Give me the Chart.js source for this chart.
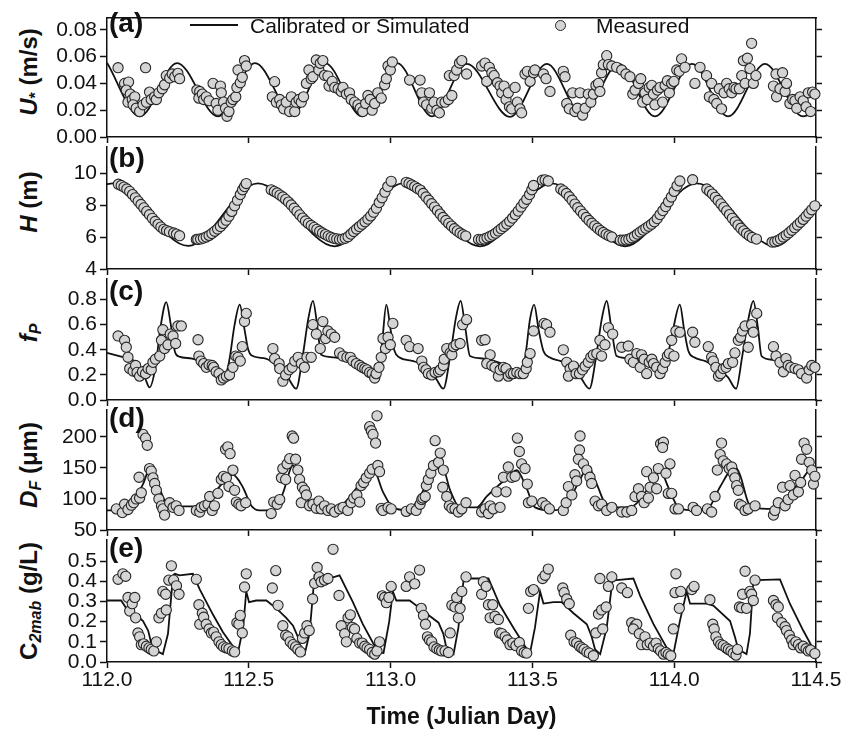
<!DOCTYPE html>
<html>
<head>
<meta charset="utf-8">
<script src="https://cdn.jsdelivr.net/npm/chart.js"></script>
<style>
  body { margin: 0; background: #fff; width: 856px; height: 733px; position: relative; overflow: hidden;
         font-family: 'Liberation Sans', Arial, sans-serif; color: #111; }
  .panel { position: absolute; left: 0; width: 856px; }
  .ytitle { position: absolute; left: 29px; transform: translate(-50%, -50%) rotate(-90deg);
            white-space: nowrap; font-weight: bold; font-size: 24px; line-height: 1; }
  .ytitle sub { font-size: 16px; vertical-align: -4px; line-height: 0; }
  .tag { position: absolute; left: 109px; font-weight: bold; font-size: 28px; line-height: 1; }
  .legtext { position: absolute; top: 15px; font-size: 21px; line-height: 1; white-space: nowrap; }
</style>
</head>
<body>

<div class="ytitle" style="top:72px"><i>U</i><sub>*</sub> (m/s)</div>
<div class="ytitle" style="top:202px"><i>H</i> (m)</div>
<div class="ytitle" style="top:333px"><i>f</i><sub><i>P</i></sub></div>
<div class="ytitle" style="top:465px"><i>D</i><sub><i>F</i></sub> (μm)</div>
<div class="ytitle" style="top:601px">C<sub><i>2mab</i></sub> (g/L)</div>

<script>
// x axis
const timeTicks = [112.0, 112.5, 113.0, 113.5, 114.0, 114.5];

// (a) friction velocity U* (m/s)
const uTicks = [0, 0.02, 0.04, 0.06, 0.08];
const uSim = [[112.0,0.0554],[112.116,0.0154],[112.247,0.0552],[112.391,0.0154],[112.522,0.0552],[112.656,0.0175],
  [112.769,0.0552],[112.899,0.0154],[113.023,0.0552],[113.146,0.0154],[113.269,0.0545],[113.421,0.015],[113.551,0.0545],
  [113.675,0.0168],[113.805,0.0545],[113.932,0.0154],[114.063,0.0545],[114.190,0.0154],[114.320,0.0545],[114.454,0.0154],[114.5,0.019]];
const uMeas = [[112.039,0.0517],[112.062,0.040],[112.076,0.041],[112.068,0.035],[112.082,0.032],[112.074,0.026],[112.089,0.028],
  [112.098,0.030],[112.092,0.024],[112.103,0.0215],[112.115,0.019],[112.127,0.024],[112.136,0.0517],[112.139,0.026],[112.150,0.0335],
  [112.156,0.028],[112.168,0.030],[112.174,0.028],[112.183,0.033],[112.195,0.036],[112.203,0.039],[112.209,0.0458],[112.221,0.044],
  [112.230,0.047],[112.239,0.045],[112.250,0.0475],[112.256,0.0435],
  [112.317,0.035],[112.327,0.034],[112.324,0.029],[112.336,0.032],[112.341,0.028],[112.350,0.030],[112.360,0.027],[112.374,0.040],
  [112.385,0.025],[112.391,0.020],[112.400,0.038],[112.403,0.033],[112.411,0.026],[112.418,0.0215],[112.423,0.0155],[112.430,0.019],
  [112.438,0.026],[112.444,0.028],[112.454,0.030],[112.458,0.037],[112.462,0.050],[112.470,0.0405],[112.477,0.0445],[112.485,0.057],
  [112.491,0.053],
  [112.583,0.030],[112.591,0.0413],[112.597,0.026],[112.609,0.028],[112.615,0.024],[112.623,0.021],[112.632,0.026],[112.644,0.019],
  [112.650,0.030],[112.662,0.019],[112.667,0.026],[112.677,0.028],[112.685,0.026],[112.693,0.030],[112.703,0.040],[112.712,0.050],
  [112.720,0.0435],[112.726,0.045],[112.738,0.0575],[112.747,0.050],[112.752,0.055],[112.761,0.057],[112.767,0.046],[112.779,0.0455],
  [112.783,0.038],[112.794,0.0415],[112.803,0.037],[112.815,0.036],[112.826,0.034],[112.832,0.037],[112.844,0.032],[112.855,0.033],
  [112.861,0.028],[112.873,0.026],[112.885,0.024],[112.893,0.0215],[112.902,0.019],[112.912,0.025],[112.920,0.031],[112.928,0.028],
  [112.935,0.020],[112.944,0.025],[112.955,0.033],[112.967,0.029],[112.979,0.039],[112.985,0.0435],[112.991,0.053],[112.999,0.050],
  [113.006,0.056],
  [113.067,0.0425],[113.104,0.0425],[113.110,0.033],[113.116,0.026],[113.127,0.024],[113.137,0.033],[113.145,0.0215],[113.153,0.026],
  [113.163,0.020],[113.172,0.018],[113.180,0.026],[113.192,0.026],[113.204,0.028],[113.216,0.031],[113.207,0.0458],[113.224,0.0458],
  [113.233,0.050],[113.243,0.0552],[113.251,0.057],[113.268,0.047],
  [113.321,0.053],[113.333,0.0552],[113.339,0.0415],[113.348,0.052],[113.357,0.048],[113.365,0.0458],[113.377,0.0405],[113.386,0.038],
  [113.392,0.033],[113.400,0.038],[113.407,0.028],[113.415,0.033],[113.419,0.0225],[113.427,0.021],[113.439,0.037],[113.447,0.026],
  [113.456,0.021],[113.462,0.018],[113.474,0.047],[113.482,0.049],[113.492,0.0415],[113.504,0.048],[113.509,0.050],[113.539,0.047],
  [113.548,0.0435],[113.562,0.034],
  [113.609,0.049],[113.615,0.045],[113.621,0.025],[113.630,0.021],[113.642,0.033],[113.650,0.019],[113.659,0.0215],[113.668,0.033],
  [113.677,0.0163],[113.686,0.0215],[113.697,0.032],[113.706,0.026],[113.715,0.032],[113.724,0.0385],[113.733,0.040],[113.738,0.034],
  [113.744,0.048],[113.750,0.054],[113.762,0.0607],[113.768,0.054],[113.780,0.053],[113.797,0.052],[113.815,0.050],[113.830,0.047],
  [113.844,0.045],[113.854,0.032],[113.862,0.035],[113.874,0.040],[113.882,0.0435],[113.889,0.026],[113.897,0.033],[113.905,0.028],
  [113.912,0.037],[113.921,0.0385],[113.927,0.032],[113.932,0.024],[113.941,0.035],[113.950,0.037],[113.959,0.026],[113.968,0.0385],
  [113.976,0.042],[113.983,0.033],[113.991,0.040],[113.999,0.0415],[114.009,0.050],[114.018,0.049],[114.026,0.0583],[114.038,0.052],
  [114.073,0.040],[114.091,0.052],[114.114,0.0458],[114.124,0.030],[114.132,0.040],[114.140,0.028],[114.150,0.025],[114.159,0.036],
  [114.167,0.021],[114.176,0.033],[114.185,0.040],[114.194,0.036],[114.203,0.033],[114.211,0.037],[114.218,0.036],[114.230,0.036],
  [114.238,0.0458],[114.244,0.057],[114.250,0.040],[114.258,0.0588],[114.267,0.051],[114.273,0.0699],[114.279,0.040],[114.288,0.0458],
  [114.350,0.038],[114.361,0.030],[114.359,0.047],[114.373,0.036],[114.382,0.048],[114.391,0.034],[114.396,0.040],[114.408,0.025],
  [114.418,0.028],[114.426,0.027],[114.432,0.0215],[114.444,0.030],[114.455,0.027],[114.465,0.0225],[114.473,0.033],[114.481,0.019],
  [114.488,0.0335],[114.496,0.032]];

// (b) water depth H (m)
const hTicks = [4, 6, 8, 10];
const hSim = [[112.0,9.30],[112.02,9.35],[112.286,5.45],[112.532,9.35],[112.803,5.42],[113.043,9.35],[113.316,5.42],
  [113.568,9.35],[113.827,5.42],[114.079,9.35],[114.355,5.42],[114.5,7.95]];
const hMeas = [
  [112.04,9.30],[112.05,9.22],[112.06,9.12],[112.07,9.00],[112.08,8.85],[112.09,8.65],[112.10,8.45],[112.11,8.24],[112.12,8.03],
  [112.13,7.82],[112.14,7.60],[112.15,7.39],[112.16,7.17],[112.17,6.97],[112.18,6.79],[112.19,6.62],[112.20,6.48],[112.21,6.40],
  [112.22,6.33],[112.235,6.25],[112.245,6.18],[112.256,6.08],
  [112.315,5.85],[112.32,5.85],[112.33,5.88],[112.34,5.93],[112.35,6.00],[112.36,6.10],[112.37,6.22],[112.38,6.36],[112.39,6.50],
  [112.40,6.66],[112.41,6.85],[112.42,7.05],[112.43,7.30],[112.44,7.60],[112.45,7.95],[112.46,8.30],[112.47,8.65],[112.478,8.95],
  [112.485,9.15],[112.491,9.34],
  [112.579,8.95],[112.59,8.85],[112.60,8.75],[112.61,8.62],[112.62,8.50],[112.63,8.35],[112.64,8.18],[112.65,8.00],[112.66,7.80],
  [112.67,7.60],[112.68,7.38],[112.69,7.18],[112.70,7.00],[112.71,6.85],[112.72,6.72],[112.73,6.60],[112.74,6.48],[112.75,6.36],
  [112.76,6.25],[112.77,6.15],[112.78,6.06],[112.79,5.98],[112.80,5.92],[112.81,5.88],
  [112.82,5.85],[112.83,5.87],[112.84,5.92],[112.85,6.02],[112.86,6.18],[112.87,6.34],[112.88,6.50],[112.89,6.65],[112.90,6.80],
  [112.91,6.95],[112.92,7.12],[112.93,7.32],[112.94,7.55],[112.95,7.80],[112.96,8.15],[112.97,8.45],[112.98,8.80],[112.99,9.15],
  [113.002,9.48],
  [113.055,9.42],[113.065,9.35],[113.075,9.25],[113.085,9.15],[113.095,9.03],[113.105,8.93],[113.115,8.72],[113.125,8.50],
  [113.135,8.30],[113.145,8.08],[113.155,7.87],[113.165,7.65],[113.175,7.43],[113.185,7.22],[113.195,7.03],[113.205,6.85],
  [113.215,6.68],[113.225,6.52],[113.235,6.38],[113.245,6.25],[113.255,6.14],[113.265,6.06],
  [113.31,5.85],[113.32,5.84],[113.33,5.88],[113.34,5.95],[113.35,6.03],[113.36,6.12],[113.37,6.24],[113.38,6.38],[113.39,6.52],
  [113.40,6.66],[113.41,6.81],[113.42,6.98],[113.43,7.18],[113.44,7.40],[113.45,7.62],[113.46,7.88],[113.47,8.12],[113.48,8.36],
  [113.49,8.65],[113.498,8.95],[113.504,9.22],[113.535,9.55],[113.545,9.57],[113.556,9.50],
  [113.600,9.00],[113.61,8.88],[113.62,8.72],[113.63,8.52],[113.64,8.30],[113.65,8.06],[113.66,7.83],[113.67,7.62],[113.68,7.42],
  [113.69,7.22],[113.70,7.03],[113.71,6.86],[113.72,6.70],[113.73,6.55],[113.74,6.40],[113.75,6.28],[113.76,6.17],[113.77,6.08],
  [113.78,6.00],[113.81,5.80],[113.82,5.80],
  [113.83,5.82],[113.84,5.86],[113.85,5.95],[113.86,6.05],[113.87,6.18],[113.88,6.31],[113.89,6.43],[113.90,6.55],[113.91,6.67],
  [113.92,6.80],[113.93,6.95],[113.94,7.15],[113.95,7.40],[113.96,7.65],[113.97,7.90],[113.98,8.20],[113.99,8.50],[114.00,8.85],
  [114.01,9.20],[114.02,9.50],[114.065,9.58],
  [114.115,9.00],[114.125,8.85],[114.135,8.68],[114.145,8.48],[114.155,8.28],[114.165,8.07],[114.175,7.85],[114.185,7.63],
  [114.195,7.40],[114.205,7.17],[114.215,6.95],[114.225,6.74],[114.235,6.55],[114.245,6.38],[114.255,6.22],[114.265,6.08],
  [114.275,5.97],[114.29,5.87],
  [114.345,5.68],[114.355,5.70],[114.365,5.78],[114.375,5.88],[114.385,6.00],[114.395,6.12],[114.405,6.27],[114.415,6.42],
  [114.425,6.58],[114.435,6.75],[114.445,6.92],[114.455,7.10],[114.465,7.30],[114.475,7.50],[114.485,7.70],[114.496,7.95]];

// (c) particulate fraction fP
const fTicks = [0, 0.2, 0.4, 0.6, 0.8];
const fSim = [[112.000,0.375],[112.050,0.345],[112.090,0.320],[112.115,0.270],[112.135,0.170],[112.150,0.100],[112.170,0.250],
  [112.190,0.600],[112.209,0.780],[112.225,0.600],[112.240,0.380],[112.255,0.345],[112.300,0.330],[112.350,0.290],[112.390,0.220],
  [112.410,0.170],[112.430,0.300],[112.450,0.600],[112.468,0.760],[112.485,0.560],[112.497,0.410],[112.510,0.355],[112.560,0.330],
  [112.600,0.270],[112.640,0.170],[112.667,0.090],[112.690,0.350],[112.710,0.650],[112.726,0.790],[112.742,0.580],[112.755,0.360],
  [112.800,0.340],[112.850,0.310],[112.900,0.270],[112.940,0.200],[112.955,0.170],[112.970,0.450],[112.985,0.760],[113.000,0.560],
  [113.014,0.390],[113.030,0.340],[113.080,0.310],[113.120,0.270],[113.160,0.170],[113.186,0.090],[113.210,0.350],[113.230,0.650],
  [113.247,0.790],[113.263,0.580],[113.280,0.350],[113.330,0.330],[113.380,0.300],[113.420,0.260],[113.456,0.200],[113.475,0.350],
  [113.492,0.650],[113.506,0.760],[113.522,0.560],[113.539,0.390],[113.560,0.340],[113.600,0.310],[113.640,0.260],[113.670,0.180],
  [113.701,0.090],[113.725,0.350],[113.745,0.650],[113.762,0.790],[113.778,0.580],[113.797,0.350],[113.850,0.330],[113.900,0.290],
  [113.950,0.210],[113.975,0.330],[113.995,0.550],[114.020,0.760],[114.035,0.560],[114.050,0.390],[114.070,0.340],[114.110,0.310],
  [114.150,0.260],[114.190,0.180],[114.218,0.090],[114.240,0.350],[114.262,0.650],[114.279,0.790],[114.295,0.580],[114.308,0.350],
  [114.350,0.320],[114.400,0.290],[114.440,0.250],[114.470,0.210],[114.500,0.250]];
const fMeas = [[112.039,0.51],[112.062,0.475],[112.068,0.42],[112.074,0.34],[112.080,0.25],[112.092,0.23],[112.101,0.275],
  [112.106,0.22],[112.115,0.19],[112.125,0.225],[112.136,0.21],[112.145,0.25],[112.156,0.24],[112.162,0.30],[112.171,0.325],
  [112.186,0.35],[112.192,0.475],[112.197,0.56],[112.203,0.41],[112.215,0.44],[112.223,0.525],[112.233,0.51],[112.242,0.45],
  [112.250,0.59],[112.262,0.59],
  [112.321,0.48],[112.324,0.35],[112.332,0.31],[112.341,0.29],[112.350,0.26],[112.360,0.28],[112.371,0.275],[112.376,0.26],
  [112.385,0.225],[112.395,0.21],[112.403,0.16],[112.411,0.175],[112.421,0.19],[112.432,0.20],[112.444,0.26],[112.454,0.35],
  [112.462,0.34],[112.470,0.31],[112.477,0.425],[112.485,0.625],[112.491,0.69],
  [112.585,0.41],[112.591,0.33],[112.607,0.29],[112.609,0.25],[112.620,0.15],[112.630,0.20],[112.642,0.24],[112.653,0.26],
  [112.662,0.31],[112.674,0.34],[112.685,0.29],[112.696,0.26],[112.705,0.34],[112.720,0.34],[112.726,0.60],[112.738,0.525],
  [112.752,0.41],[112.761,0.625],[112.771,0.49],[112.779,0.55],[112.791,0.525],[112.803,0.50],
  [112.820,0.375],[112.832,0.35],[112.846,0.34],[112.858,0.34],[112.867,0.31],[112.879,0.29],[112.891,0.275],[112.900,0.26],
  [112.909,0.25],[112.917,0.24],[112.926,0.22],[112.935,0.21],[112.944,0.175],[112.949,0.21],[112.959,0.26],[112.967,0.34],
  [112.973,0.49],[112.982,0.41],[112.991,0.50],[112.999,0.44],[113.008,0.61],
  [113.055,0.475],[113.067,0.425],[113.097,0.41],[113.110,0.31],[113.116,0.26],[113.125,0.24],[113.133,0.21],[113.145,0.20],
  [113.157,0.22],[113.169,0.225],[113.175,0.24],[113.186,0.275],[113.189,0.325],[113.198,0.41],[113.210,0.375],[113.216,0.36],
  [113.222,0.425],[113.231,0.44],[113.245,0.45],[113.254,0.60],[113.268,0.64],
  [113.321,0.475],[113.333,0.48],[113.351,0.36],[113.339,0.29],[113.357,0.275],[113.368,0.26],[113.380,0.19],[113.386,0.24],
  [113.398,0.26],[113.407,0.25],[113.415,0.19],[113.424,0.21],[113.433,0.21],[113.445,0.22],[113.456,0.21],[113.468,0.21],
  [113.478,0.25],[113.482,0.30],[113.492,0.37],[113.504,0.55],[113.541,0.61],[113.550,0.60],[113.562,0.54],
  [113.609,0.40],[113.621,0.30],[113.633,0.25],[113.645,0.27],[113.627,0.19],[113.654,0.21],[113.666,0.21],[113.677,0.24],
  [113.686,0.27],[113.697,0.30],[113.706,0.34],[113.715,0.36],[113.727,0.37],[113.738,0.475],[113.744,0.35],[113.756,0.44],
  [113.768,0.575],[113.783,0.525],
  [113.815,0.42],[113.838,0.43],[113.844,0.325],[113.856,0.30],[113.868,0.37],[113.880,0.26],[113.885,0.36],[113.894,0.325],
  [113.903,0.21],[113.912,0.30],[113.921,0.325],[113.927,0.29],[113.938,0.26],[113.950,0.21],[113.959,0.25],[113.968,0.30],
  [113.976,0.35],[113.983,0.37],[113.991,0.475],[113.999,0.35],[114.006,0.55],[114.020,0.54],[114.065,0.54],[114.073,0.46],
  [114.120,0.425],[114.132,0.34],[114.138,0.31],[114.147,0.26],[114.156,0.19],[114.164,0.21],[114.173,0.25],[114.183,0.26],
  [114.191,0.29],[114.206,0.30],[114.214,0.375],[114.226,0.475],[114.234,0.50],[114.241,0.55],[114.250,0.59],[114.261,0.42],
  [114.273,0.60],[114.279,0.54],[114.291,0.69],
  [114.350,0.425],[114.359,0.35],[114.373,0.30],[114.385,0.225],[114.394,0.33],[114.402,0.275],[114.411,0.26],[114.426,0.25],
  [114.438,0.24],[114.449,0.21],[114.467,0.175],[114.476,0.24],[114.485,0.275],[114.496,0.26]];

// (d) floc size DF (um)
const dTicks = [50, 100, 150, 200];
const dSim = [[112.0,81.5],[112.04,82],[112.09,96],[112.127,124],[112.156,154],[112.18,124],[112.209,94],[112.244,89],
  [112.30,88],[112.327,89],[112.385,114],[112.432,136.5],[112.444,139],[112.479,119],[112.509,89],[112.538,81.5],[112.585,81.5],
  [112.62,109],[112.656,154],[112.685,124],[112.714,94],[112.75,86.5],[112.82,89],[112.891,124],[112.938,149],[112.973,111.5],
  [113.008,86.5],[113.06,82],[113.104,104],[113.139,136],[113.18,154],[113.21,114],[113.239,89],[113.304,86.5],[113.339,104],
  [113.398,129],[113.445,146.5],[113.48,116.5],[113.509,86.5],[113.574,81.5],[113.621,91.5],[113.668,131.5],[113.697,151.5],
  [113.727,124],[113.756,94],[113.809,86.5],[113.856,89],[113.903,114],[113.95,146.5],[113.979,119],[114.015,86.5],[114.067,81.5],
  [114.126,89],[114.161,119],[114.214,151.5],[114.232,139],[114.261,94],[114.279,86.5],[114.35,84],[114.408,109],[114.455,134],
  [114.479,146.5],[114.5,139]];
const dMeas = [[112.033,84],[112.054,78],[112.062,91.5],[112.074,83],[112.086,90],[112.094,94],[112.103,100],[112.115,101.5],
  [112.121,110],[112.113,135],[112.127,204],[112.136,198],[112.142,186.5],[112.150,149],[112.156,145],[112.162,134],[112.168,125],
  [112.174,114],[112.183,100],[112.192,89],[112.197,84],[112.203,74],[112.221,94],[112.233,86.5],[112.244,89],[112.254,81.5],
  [112.315,81.5],[112.327,79],[112.332,86.5],[112.344,89],[112.356,91.5],[112.362,104],[112.371,81.5],[112.379,89],[112.391,109],
  [112.403,131.5],[112.411,136.5],[112.421,134],[112.430,120],[112.418,180],[112.426,184],[112.434,173],[112.444,146.5],
  [112.450,114],[112.456,95],[112.465,91.5],[112.473,89],[112.489,94],
  [112.579,76.5],[112.588,95],[112.600,91.5],[112.609,99],[112.615,134],[112.620,149],[112.630,131.5],[112.635,156.5],[112.644,165],
  [112.653,201.5],[112.658,198],[112.665,164],[112.673,146.5],[112.679,131.5],[112.689,119],[112.697,114],[112.685,94],
  [112.703,106.5],[112.714,89],[112.726,91.5],[112.738,85],[112.747,96.5],[112.755,84],[112.767,89],[112.779,81.5],[112.791,84],
  [112.803,79],[112.820,84],[112.832,86.5],[112.849,81.5],[112.861,94],[112.870,101.5],[112.881,106.5],[112.891,95],[112.896,121.5],
  [112.905,126.5],[112.914,134],[112.926,141.5],[112.935,148],[112.926,216.5],[112.932,210],[112.938,204],[112.947,190],
  [112.952,234],[112.955,154],[112.961,144],[112.967,85],[112.973,81.5],[112.991,86.5],[113.002,84],
  [113.055,80],[113.073,84],[113.090,81.5],[113.104,91.5],[113.110,99],[113.114,101.5],[113.122,104],[113.126,121.5],
  [113.133,131.5],[113.142,141.5],[113.151,154],[113.157,194],[113.169,159],[113.175,174],[113.186,146.5],[113.184,119],
  [113.198,104],[113.207,89],[113.216,85],[113.227,84],[113.239,79],[113.251,84],[113.266,94],
  [113.321,79],[113.333,84],[113.345,76.5],[113.351,89],[113.362,84],[113.374,111.5],[113.386,86.5],[113.398,135],[113.407,111.5],
  [113.415,151.5],[113.427,135],[113.439,136.5],[113.447,198],[113.454,176.5],[113.462,156.5],[113.474,149],[113.482,124],
  [113.486,94],[113.498,96.5],[113.536,94],[113.548,89],[113.560,84],
  [113.609,81.5],[113.619,94],[113.627,120],[113.639,106.5],[113.650,139],[113.656,129],[113.666,179],[113.668,201.5],[113.662,164],
  [113.680,156.5],[113.692,146.5],[113.703,135],[113.709,125],[113.721,96.5],[113.733,89],[113.744,91.5],[113.762,81.5],
  [113.780,86.5],[113.815,79],[113.833,79],[113.850,81.5],[113.862,104],[113.874,116.5],[113.885,104],[113.894,94],[113.903,144],
  [113.909,101.5],[113.915,119],[113.927,134],[113.938,116.5],[113.944,149],[113.952,189],[113.962,191.5],[113.959,183],
  [113.971,141.5],[113.985,156.5],[113.979,109],[113.991,109],[114.003,84],[114.015,84],
  [114.067,86.5],[114.079,81.5],[114.117,84],[114.132,79],[114.144,104],[114.152,146.5],[114.162,171.5],[114.167,190],[114.173,161.5],
  [114.185,156.5],[114.194,149],[114.203,151.5],[114.208,141.5],[114.214,134],[114.220,121.5],[114.226,114],[114.230,91.5],
  [114.238,89],[114.250,81.5],[114.261,84],[114.285,89],
  [114.350,74],[114.355,81.5],[114.367,94],[114.382,119],[114.391,89],[114.402,99],[114.408,121.5],[114.420,106.5],[114.426,138],
  [114.438,111.5],[114.446,126.5],[114.449,164],[114.458,190],[114.467,180],[114.476,159],[114.485,146.5],[114.491,124],[114.496,136.5]];

// (e) 2-mab concentration C2mab (g/L)
const cTicks = [0, 0.1, 0.2, 0.3, 0.4, 0.5];
const cSim = [[112.0,0.305],[112.05,0.305],[112.068,0.266],[112.103,0.234],[112.127,0.203],[112.145,0.156],[112.156,0.094],
  [112.174,0.055],[112.197,0.039],[112.215,0.14],[112.233,0.43],[112.239,0.4375],[112.256,0.43],[112.303,0.4375],[112.327,0.36],
  [112.374,0.234],[112.409,0.148],[112.444,0.078],[112.462,0.047],[112.480,0.17],[112.491,0.35],[112.501,0.297],[112.526,0.305],
  [112.562,0.305],[112.597,0.266],[112.632,0.219],[112.656,0.18],[112.673,0.125],[112.685,0.0625],[112.697,0.039],[112.714,0.14],
  [112.732,0.43],[112.75,0.42],[112.797,0.42],[112.82,0.43],[112.867,0.297],[112.902,0.1875],[112.938,0.094],[112.961,0.047],
  [112.975,0.045],[112.995,0.20],[113.008,0.35],[113.02,0.305],[113.067,0.305],[113.104,0.266],[113.139,0.227],[113.169,0.195],
  [113.186,0.14],[113.198,0.0625],[113.222,0.039],[113.239,0.17],[113.258,0.414],[113.28,0.414],[113.345,0.414],[113.386,0.28],
  [113.433,0.17],[113.474,0.078],[113.492,0.047],[113.509,0.17],[113.527,0.35],[113.539,0.29],[113.574,0.297],[113.603,0.297],
  [113.645,0.242],[113.692,0.1875],[113.709,0.125],[113.721,0.0625],[113.739,0.039],[113.762,0.17],[113.783,0.414],[113.797,0.406],
  [113.856,0.414],[113.88,0.328],[113.927,0.1875],[113.974,0.07],[113.997,0.039],[114.02,0.203],[114.044,0.35],[114.056,0.289],
  [114.114,0.289],[114.138,0.28],[114.197,0.203],[114.214,0.125],[114.226,0.0625],[114.255,0.039],[114.267,0.14],[114.279,0.398],
  [114.291,0.406],[114.373,0.41],[114.408,0.289],[114.455,0.156],[114.5,0.039]];
const cMeas = [[112.039,0.41],[112.056,0.4375],[112.066,0.425],[112.074,0.32],[112.080,0.253],[112.089,0.289],[112.098,0.32],
  [112.101,0.219],[112.109,0.144],[112.115,0.125],[112.121,0.086],[112.129,0.09],[112.139,0.078],[112.148,0.07],[112.156,0.0625],
  [112.165,0.055],[112.174,0.10],[112.183,0.219],[112.192,0.242],[112.197,0.35],[112.207,0.336],[112.209,0.258],[112.218,0.406],
  [112.227,0.477],[112.235,0.406],[112.245,0.378],[112.254,0.336],
  [112.315,0.41],[112.324,0.284],[112.327,0.1875],[112.336,0.242],[112.341,0.222],[112.350,0.1875],[112.360,0.164],[112.368,0.144],
  [112.376,0.148],[112.385,0.125],[112.395,0.10],[112.403,0.086],[112.411,0.075],[112.421,0.07],[112.430,0.066],[112.442,0.055],
  [112.450,0.05],[112.458,0.195],[112.465,0.1875],[112.470,0.231],[112.477,0.144],[112.485,0.372],[112.491,0.4375],
  [112.583,0.367],[112.595,0.453],[112.603,0.281],[112.620,0.18],[112.630,0.133],[112.638,0.125],[112.646,0.10],[112.656,0.086],
  [112.665,0.075],[112.673,0.0625],[112.682,0.05],[112.689,0.117],[112.697,0.144],[112.705,0.18],[112.713,0.156],[112.725,0.3125],
  [112.732,0.39],[112.741,0.469],[112.748,0.422],[112.755,0.398],[112.767,0.406],[112.779,0.414],[112.797,0.559],
  [112.818,0.33],[112.826,0.18],[112.838,0.14],[112.844,0.10],[112.850,0.219],[112.858,0.234],[112.865,0.172],[112.873,0.164],
  [112.881,0.117],[112.891,0.094],[112.900,0.094],[112.909,0.078],[112.917,0.07],[112.926,0.0625],[112.935,0.047],[112.944,0.039],
  [112.952,0.055],[112.961,0.10],[112.971,0.328],[112.979,0.32],[112.985,0.294],[112.994,0.32],[113.002,0.375],
  [113.055,0.375],[113.067,0.422],[113.085,0.3875],[113.102,0.456],[113.108,0.266],[113.116,0.231],[113.123,0.1875],[113.130,0.125],
  [113.137,0.109],[113.145,0.10],[113.153,0.075],[113.163,0.066],[113.172,0.059],[113.180,0.055],[113.192,0.055],[113.204,0.047],
  [113.210,0.144],[113.216,0.281],[113.227,0.273],[113.233,0.32],[113.239,0.219],[113.245,0.266],[113.251,0.35],[113.266,0.422],
  [113.321,0.336],[113.327,0.398],[113.337,0.375],[113.345,0.284],[113.351,0.219],[113.360,0.284],[113.368,0.227],[113.380,0.211],
  [113.384,0.144],[113.392,0.141],[113.404,0.125],[113.412,0.109],[113.421,0.086],[113.431,0.094],[113.442,0.081],[113.454,0.097],
  [113.462,0.055],[113.471,0.047],[113.480,0.044],[113.486,0.266],[113.494,0.35],[113.504,0.359],[113.536,0.414],[113.545,0.43],
  [113.556,0.461],
  [113.607,0.367],[113.612,0.344],[113.621,0.3125],[113.630,0.289],[113.635,0.133],[113.647,0.10],[113.656,0.094],[113.666,0.078],
  [113.674,0.07],[113.682,0.0625],[113.692,0.05],[113.701,0.044],[113.715,0.031],[113.724,0.144],[113.733,0.2375],[113.744,0.258],
  [113.760,0.273],[113.748,0.164],[113.738,0.414],[113.768,0.375],[113.780,0.422],
  [113.815,0.367],[113.835,0.344],[113.850,0.195],[113.862,0.18],[113.868,0.1875],[113.856,0.164],[113.877,0.14],[113.885,0.086],
  [113.897,0.125],[113.905,0.086],[113.915,0.094],[113.927,0.078],[113.936,0.094],[113.944,0.066],[113.952,0.055],[113.962,0.039],
  [113.971,0.047],[113.979,0.039],[113.988,0.031],[113.997,0.164],[114.006,0.4375],[114.003,0.344],[114.018,0.266],[114.023,0.35],
  [114.062,0.359],[114.070,0.375],
  [114.126,0.309],[114.136,0.1875],[114.141,0.164],[114.147,0.125],[114.156,0.10],[114.164,0.086],[114.173,0.081],[114.183,0.07],
  [114.191,0.0625],[114.200,0.055],[114.208,0.044],[114.218,0.034],[114.223,0.0625],[114.230,0.273],[114.238,0.269],[114.241,0.336],
  [114.250,0.45],[114.255,0.266],[114.267,0.35],[114.273,0.336],[114.279,0.305],[114.285,0.406],
  [114.350,0.305],[114.359,0.284],[114.367,0.273],[114.364,0.219],[114.379,0.195],[114.391,0.175],[114.396,0.156],[114.406,0.133],
  [114.414,0.109],[114.420,0.086],[114.429,0.10],[114.438,0.086],[114.446,0.07],[114.455,0.078],[114.465,0.066],[114.473,0.055],
  [114.481,0.059],[114.496,0.042]];

const FONT = "'Liberation Sans', Arial, sans-serif";
const INK = '#111';
Chart.defaults.font.family = FONT;
Chart.defaults.color = INK;

const PAD_TOP = 8;
const PAD_BOTTOM = 12;

const toXY = arr => arr.map(p => ({ x: p[0], y: p[1] }));
const setTicks = list => scale => { scale.ticks = list.map(v => ({ value: v })); };

// one stacked panel: plot area from areaTop to areaBottom (page pixels)
const makePanel = (cfg) => {
  const last = !!cfg.last;
  const xh = last ? 71 : 8;
  const padBottom = last ? 0 : PAD_BOTTOM;
  const wrap = document.createElement('div');
  wrap.className = 'panel';
  wrap.style.top = (cfg.top - PAD_TOP) + 'px';
  wrap.style.height = (cfg.bottom - cfg.top + PAD_TOP + xh + padBottom) + 'px';
  const canvas = document.createElement('canvas');
  wrap.appendChild(canvas);
  document.body.appendChild(wrap);

  const axisBorder = { display: true, color: INK, width: 1.5 };
  const tickGrid = { drawOnChartArea: false, drawTicks: true, tickLength: 7, color: INK, tickColor: INK, tickWidth: 1.5 };

  const scales = {
    x: {
      type: 'linear', min: 112, max: 114.5,
      afterBuildTicks: setTicks(timeTicks),
      afterFit: s => { s.height = xh; },
      border: axisBorder,
      grid: { ...tickGrid, tickLength: 6 },
      ticks: { display: last, padding: 0, font: { size: 21 }, color: INK, maxRotation: 0, autoSkip: false,
               callback: v => v.toFixed(1) },
      title: { display: last, text: 'Time (Julian Day)', color: INK,
               font: { size: 23, weight: 'bold' }, padding: { top: 0, bottom: 2 } }
    },
    y: {
      type: 'linear', position: 'left', min: cfg.min, max: cfg.max,
      afterBuildTicks: setTicks(cfg.ticks),
      afterFit: s => { s.width = 107; },
      border: axisBorder,
      grid: tickGrid,
      ticks: { padding: 3, font: { size: 21 }, color: INK, autoSkip: false, callback: v => v.toFixed(cfg.digits) }
    },
    y2: {
      type: 'linear', position: 'right', min: cfg.min, max: cfg.max,
      afterBuildTicks: setTicks(cfg.ticks),
      afterFit: s => { s.width = 40; },
      border: axisBorder,
      grid: { ...tickGrid, tickLength: 6 },
      ticks: { display: false }
    }
  };
  if (cfg.topBorder) {
    scales.xTop = {
      type: 'linear', position: 'top', min: 112, max: 114.5,
      afterFit: s => { s.height = 0; },
      border: axisBorder,
      grid: { drawOnChartArea: false, drawTicks: false },
      ticks: { display: false }
    };
  }

  return new Chart(canvas, {
    type: 'line',
    data: {
      datasets: [
        {
          label: 'Measured',
          data: toXY(cfg.meas),
          showLine: false,
          pointRadius: 5.1,
          pointBackgroundColor: '#d4d4d4',
          pointBorderColor: '#262626',
          pointBorderWidth: 1.1,
          clip: false,
          order: 0
        },
        {
          label: 'Calibrated or Simulated',
          data: toXY(cfg.sim),
          borderColor: INK,
          borderWidth: 1.8,
          pointRadius: 0,
          fill: false,
          tension: cfg.tension || 0,
          cubicInterpolationMode: cfg.monotone ? 'monotone' : 'default',
          order: 1
        }
      ]
    },
    options: {
      responsive: true,
      maintainAspectRatio: false,
      animation: false,
      layout: { padding: { top: PAD_TOP, left: 0, right: 0, bottom: padBottom } },
      plugins: { legend: { display: false }, tooltip: { enabled: false } },
      scales: scales
    }
  });
};

makePanel({ top: 10,  bottom: 137, min: 0, max: 0.0891, ticks: uTicks, digits: 2, sim: uSim, meas: uMeas, monotone: true, topBorder: true });
makePanel({ top: 139, bottom: 269, min: 4, max: 11.65, ticks: hTicks, digits: 0, sim: hSim, meas: hMeas, monotone: true });
makePanel({ top: 271, bottom: 400, min: 0, max: 0.967, ticks: fTicks, digits: 1, sim: fSim, meas: fMeas, monotone: true });
makePanel({ top: 402, bottom: 530, min: 50, max: 244, ticks: dTicks, digits: 0, sim: dSim, meas: dMeas, monotone: true });
makePanel({ top: 532, bottom: 662, min: 0, max: 0.607, ticks: cTicks, digits: 1, sim: cSim, meas: cMeas, last: true });
</script>

<div class="tag" style="top:9px;z-index:5">(a)</div>
<div class="tag" style="top:144px;z-index:5">(b)</div>
<div class="tag" style="top:277px;z-index:5">(c)</div>
<div class="tag" style="top:404px;z-index:5">(d)</div>
<div class="tag" style="top:534px;z-index:5">(e)</div>

<!-- legend for panel (a) -->
<div style="position:absolute;left:190px;top:24px;width:48px;height:1.8px;background:#111;z-index:5"></div>
<div class="legtext" style="left:250px;z-index:5">Calibrated or Simulated</div>
<div style="position:absolute;left:555px;top:20px;width:11px;height:11px;box-sizing:border-box;border-radius:50%;background:#d4d4d4;border:1.1px solid #262626;z-index:5"></div>
<div class="legtext" style="left:596px;z-index:5">Measured</div>

</body>
</html>
